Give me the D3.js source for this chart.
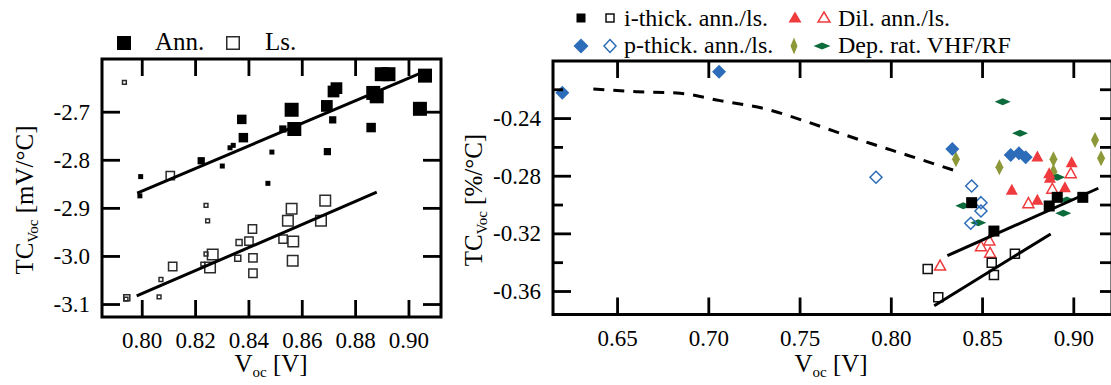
<!DOCTYPE html>
<html>
<head>
<meta charset="utf-8">
<script src="https://cdn.jsdelivr.net/npm/d3@7"></script>
<style>
  html, body { margin: 0; padding: 0; background: #fff; }
  svg { display: block; }
  svg text { font-family: "Liberation Serif", "Times New Roman", serif; }
</style>
</head>
<body>
<svg id="chart" width="1111" height="385"></svg>
<script>
// ---------- Left panel: TC_Voc [mV/°C] vs Voc, annealed vs light-soaked ----------
const leftXTicks = [0.80, 0.82, 0.84, 0.86, 0.88, 0.90];
const leftYTicks = [-2.7, -2.8, -2.9, -3.0, -3.1];

// [Voc, TC, marker level]
const annPoints = [
  [0.7996, -2.835, 1], [0.7993, -2.875, 1], [0.8223, -2.802, 2], [0.8302, -2.813, 1],
  [0.8331, -2.775, 1], [0.8343, -2.770, 1], [0.8375, -2.716, 3], [0.8381, -2.754, 3],
  [0.8488, -2.784, 1], [0.8473, -2.849, 1], [0.8562, -2.696, 5], [0.8529, -2.736, 2],
  [0.8572, -2.736, 5], [0.8694, -2.688, 4], [0.8716, -2.717, 2], [0.8719, -2.658, 4],
  [0.8730, -2.651, 4], [0.8696, -2.783, 2], [0.8860, -2.733, 3], [0.8868, -2.661, 5],
  [0.8881, -2.668, 5], [0.8900, -2.622, 5], [0.8925, -2.622, 5], [0.9062, -2.625, 5],
  [0.9043, -2.694, 5]
];
const lsPoints = [
  [0.7935, -2.639, 1], [0.8107, -2.833, 3], [0.8241, -2.895, 1], [0.8247, -2.927, 1],
  [0.8562, -2.902, 4], [0.8688, -2.885, 4], [0.8548, -2.927, 4], [0.8672, -2.927, 4],
  [0.8415, -2.944, 3], [0.8365, -2.972, 2], [0.8402, -2.969, 3], [0.8530, -2.965, 3],
  [0.8568, -2.970, 4], [0.8266, -2.997, 4], [0.8241, -2.996, 1], [0.8229, -3.017, 1],
  [0.8256, -3.024, 4], [0.8360, -3.005, 2], [0.8417, -3.004, 3], [0.8566, -3.010, 4],
  [0.8417, -3.036, 3], [0.8116, -3.022, 3], [0.8072, -3.049, 1], [0.8065, -3.085, 1],
  [0.7944, -3.087, 2], [0.7941, -3.090, 1]
];
const annFitLeft = [[0.7983, -2.8696], [0.9050, -2.6185]];
const lsFitLeft  = [[0.7981, -3.0833], [0.8881, -2.8675]];

// ---------- Right panel: TC_Voc [%/°C] vs Voc ----------
const rightXTicks = [0.65, 0.70, 0.75, 0.80, 0.85, 0.90];
const rightYMajor = [-0.24, -0.28, -0.32, -0.36];
const rightYMinor = [-0.22, -0.26, -0.30, -0.34];

const iThickAnn = [[0.8443, -0.2987], [0.8565, -0.3184], [0.8868, -0.3010], [0.8912, -0.2950], [0.9052, -0.2950]];
const iThickLs  = [[0.8202, -0.3447], [0.8260, -0.3644], [0.8553, -0.3404], [0.8565, -0.3489], [0.8680, -0.3341]];
const pThickAnn = [[0.6200, -0.2224], [0.7059, -0.2078], [0.8337, -0.2614], [0.8657, -0.2656], [0.8702, -0.2644], [0.8739, -0.2672]];
const pThickLs  = [[0.7919, -0.2811], [0.8443, -0.2871], [0.8494, -0.2987], [0.8494, -0.3045], [0.8438, -0.3130]];
const dilAnn    = [[0.8803, -0.2663], [0.8868, -0.2779], [0.8872, -0.2811], [0.8991, -0.2703], [0.8954, -0.2876], [0.8803, -0.2964], [0.8663, -0.2894]];
const dilLs     = [[0.8986, -0.2779], [0.8885, -0.2887], [0.8754, -0.2987], [0.8540, -0.3246], [0.8494, -0.3286], [0.8544, -0.3331], [0.8270, -0.3420]];
const depVHF    = [[0.8357, -0.2686], [0.8595, -0.2741], [0.8891, -0.2686], [0.8891, -0.2772], [0.9119, -0.2552], [0.9152, -0.2679]];
const depRF     = [[0.8613, -0.2286], [0.8708, -0.2505], [0.8397, -0.3008], [0.8479, -0.3126], [0.8912, -0.2811], [0.8964, -0.2968], [0.8945, -0.3061]];
const trendCurve = [
  [0.6370, -0.2198], [0.6608, -0.2217], [0.6845, -0.2228], [0.7064, -0.2279], [0.7320, -0.2339],
  [0.7539, -0.2425], [0.7685, -0.2489], [0.7886, -0.2575], [0.8087, -0.2656], [0.8352, -0.2765]
];
const annFitRight = [[0.8310, -0.3355], [0.9137, -0.2887]];
const lsFitRight  = [[0.8238, -0.3702], [0.8876, -0.3204]];

// ---------- drawing ----------
const RED = "#ef3b3d", BLUE = "#2c6cb8", OLIVE = "#8d9838", GREEN = "#0b6b3b";
const SERIF = '"Liberation Serif", "Times New Roman", serif';
const FONT = 23, TITLE = 25, SUB = 15;

const svg = d3.select("#chart");

const square  = s => `M${-s / 2},${-s / 2}h${s}v${s}h${-s}Z`;
const diamond = (w, h) => `M0,${-h / 2}L${w / 2},0L0,${h / 2}L${-w / 2},0Z`;
const triangle = (w, h) => `M0,${-h / 2}L${w / 2},${h / 2}L${-w / 2},${h / 2}Z`;

function styleAxis(g) {
  g.attr("font-family", null).attr("font-size", null);
  g.select(".domain").remove();
  g.selectAll(".tick line").attr("stroke", "#000").attr("stroke-width", 2.8);
  g.selectAll(".tick text").attr("fill", "#000")
    .style("font-family", SERIF).style("font-size", FONT + "px");
}

function frameAxes(g, x, y, box, xt, yMajor, yMinor, xFmt, yFmt, rightTick) {
  g.append("g").attr("transform", `translate(0,${box.y1})`)
    .call(d3.axisBottom(x).tickValues(xt).tickFormat(xFmt).tickSizeInner(-17).tickSizeOuter(0).tickPadding(15))
    .call(styleAxis);
  g.append("g").attr("transform", `translate(0,${box.y0})`)
    .call(d3.axisTop(x).tickValues(xt).tickFormat("").tickSizeInner(-17).tickSizeOuter(0))
    .call(styleAxis);
  g.append("g").attr("transform", `translate(${box.x0},0)`)
    .call(d3.axisLeft(y).tickValues(yMajor).tickFormat(yFmt).tickSizeInner(-18).tickSizeOuter(0).tickPadding(12))
    .call(styleAxis);
  g.append("g").attr("transform", `translate(${box.x1},0)`)
    .call(d3.axisRight(y).tickValues(yMajor).tickFormat("").tickSizeInner(-rightTick).tickSizeOuter(0))
    .call(styleAxis);
  if (yMinor) {
    g.append("g").attr("transform", `translate(${box.x0},0)`)
      .call(d3.axisLeft(y).tickValues(yMinor).tickFormat("").tickSizeInner(-10).tickSizeOuter(0))
      .call(styleAxis);
    g.append("g").attr("transform", `translate(${box.x1},0)`)
      .call(d3.axisRight(y).tickValues(yMinor).tickFormat("").tickSizeInner(-rightTick).tickSizeOuter(0))
      .call(styleAxis);
  }
  g.append("rect").attr("x", box.x0).attr("y", box.y0)
    .attr("width", box.x1 - box.x0).attr("height", box.y1 - box.y0)
    .attr("fill", "none").attr("stroke", "#000").attr("stroke-width", 3);
}

function xTitle(g, cx, baseline) {
  const t = g.append("text").attr("x", cx).attr("y", baseline)
    .attr("text-anchor", "middle").attr("font-size", TITLE);
  t.append("tspan").text("V");
  t.append("tspan").attr("font-size", SUB).attr("dy", 5).text("oc");
  t.append("tspan").attr("dy", -5).text(" [V]");
}

function yTitle(g, bx, cy, unit) {
  const t = g.append("text").attr("transform", `translate(${bx},${cy}) rotate(-90)`)
    .attr("text-anchor", "middle").attr("font-size", TITLE);
  t.append("tspan").text("TC");
  t.append("tspan").attr("font-size", SUB).attr("dy", 5).text("Voc");
  t.append("tspan").attr("dy", -5).text(" " + unit);
}

const fmt = n => d => d.toFixed(n);

// ----- left panel -----
const LB = { x0: 102, x1: 441, y0: 59, y1: 317 };
const lx = d3.scaleLinear().domain([0.7851, 0.9122]).range([LB.x0, LB.x1]);
const ly = d3.scaleLinear().domain([-3.127, -2.5904]).range([LB.y1, LB.y0]);
const levelSize = d3.scaleLinear().domain([1, 5]).range([5, 14]);

const left = svg.append("g");
const lineL = d3.line().x(d => lx(d[0])).y(d => ly(d[1]));

left.append("g").selectAll("path").data(lsPoints).join("path")
  .attr("transform", d => `translate(${lx(d[0])},${ly(d[1])})`)
  .attr("d", d => square(levelSize(d[2]) - 1.2))
  .attr("fill", "none").attr("stroke", "#2b2b2b").attr("stroke-width", 1.5);
left.append("g").selectAll("path").data(annPoints).join("path")
  .attr("transform", d => `translate(${lx(d[0])},${ly(d[1])})`)
  .attr("d", d => square(levelSize(d[2])))
  .attr("fill", "#000");
[annFitLeft, lsFitLeft].forEach(f => left.append("path").attr("d", lineL(f))
  .attr("fill", "none").attr("stroke", "#000").attr("stroke-width", 3));

frameAxes(left, lx, ly, LB, leftXTicks, leftYTicks, null, fmt(2), fmt(1), 18);
xTitle(left, 271, 372);
yTitle(left, 33, 200, "[mV/°C]");

// left legend
const legL = left.append("g");
legL.append("path").attr("transform", "translate(124,43)").attr("d", square(14)).attr("fill", "#000");
legL.append("text").attr("x", 155).attr("y", 50).attr("font-size", TITLE).text("Ann.");
legL.append("path").attr("transform", "translate(233,43)").attr("d", square(12.5))
  .attr("fill", "none").attr("stroke", "#2b2b2b").attr("stroke-width", 1.5);
legL.append("text").attr("x", 265).attr("y", 50).attr("font-size", TITLE).text("Ls.");

// ----- right panel -----
const RB = { x0: 553, x1: 1112, y0: 61, y1: 314.5 };
const rx = d3.scaleLinear().domain([0.6149, 0.9212]).range([RB.x0, RB.x1]);
const ry = d3.scaleLinear().domain([-0.3763, -0.2004]).range([RB.y1, RB.y0]);
const right = svg.append("g");
const lineR = d3.line().x(d => rx(d[0])).y(d => ry(d[1]));

function marks(data, shape, fill, stroke) {
  right.append("g").selectAll("path").data(data).join("path")
    .attr("transform", d => `translate(${rx(d[0])},${ry(d[1])})`)
    .attr("d", shape)
    .attr("fill", fill)
    .attr("stroke", stroke || "none")
    .attr("stroke-width", stroke ? 1.5 : 0);
}

right.append("path").attr("d", lineR.curve(d3.curveMonotoneX)(trendCurve))
  .attr("fill", "none").attr("stroke", "#000").attr("stroke-width", 3).attr("stroke-dasharray", "11,9");
lineR.curve(d3.curveLinear);

marks(depVHF, diamond(8, 16), OLIVE);
marks(depRF, diamond(16, 7), GREEN);
marks(pThickLs, diamond(12, 12), "none", BLUE);
marks(pThickAnn, diamond(14, 14), BLUE);
marks(dilLs, triangle(11, 10), "none", RED);
marks(dilAnn, triangle(12, 11), RED);
marks(iThickLs, square(9), "none", "#111");
marks(iThickAnn, square(11), "#000");

[annFitRight, lsFitRight].forEach(f => right.append("path").attr("d", lineR(f))
  .attr("fill", "none").attr("stroke", "#000").attr("stroke-width", 3));

frameAxes(right, rx, ry, RB, rightXTicks, rightYMajor, rightYMinor, fmt(2), fmt(2), 12);
xTitle(right, 831, 372);
yTitle(right, 482, 200, "[%/°C]");

// right legend
const legR = right.append("g");
const legItem = (x, y, d, fill, stroke) => legR.append("path")
  .attr("transform", `translate(${x},${y})`).attr("d", d)
  .attr("fill", fill).attr("stroke", stroke || "none").attr("stroke-width", stroke ? 1.5 : 0);
legItem(581, 18, square(9), "#000");
legItem(610, 18, square(8), "none", "#111");
legR.append("text").attr("x", 624).attr("y", 26).attr("font-size", FONT + 1).text("i-thick. ann./ls.");
legItem(795, 17, triangle(13, 11), RED);
legItem(824, 17, triangle(12, 10), "none", RED);
legR.append("text").attr("x", 838).attr("y", 26).attr("font-size", FONT + 1).text("Dil. ann./ls.");
legItem(581, 46, diamond(15, 15), BLUE);
legItem(610, 46, diamond(12, 13), "none", BLUE);
legR.append("text").attr("x", 624).attr("y", 53).attr("font-size", FONT + 1).text("p-thick. ann./ls.");
legItem(794, 46, diamond(7, 17), OLIVE);
legItem(822, 46, diamond(17, 7), GREEN);
legR.append("text").attr("x", 838).attr("y", 53).attr("font-size", FONT + 1).text("Dep. rat. VHF/RF");
</script>
</body>
</html>
